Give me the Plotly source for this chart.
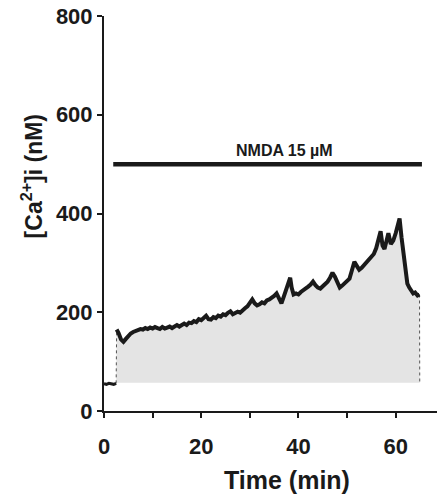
import plotly.graph_objects as go

# Time (min) and [Ca2+]i (nM)
time_min = [0.0, 0.5, 1.0, 1.5, 2.0, 2.5, 2.6, 3.0, 3.5, 4.0, 4.5, 5.0, 5.5, 6.0, 6.5, 7.0, 7.5,
            8.0, 8.5, 9.0, 9.5, 10.0, 10.5, 11.0, 11.5, 12.0, 12.5, 13.0, 13.5, 14.0, 14.5,
            15.0, 15.5, 16.0, 16.5, 17.0, 17.5, 18.0, 18.5, 19.0, 19.5, 20.0, 20.5, 21.0,
            21.5, 22.0, 22.5, 23.0, 23.5, 24.0, 24.5, 25.0, 25.5, 26.0, 26.5, 27.0, 27.5,
            28.0, 28.5, 29.0, 29.5, 30.0, 30.5, 31.0, 31.5, 32.0, 32.5, 33.0, 33.5, 34.0,
            34.5, 35.0, 35.5, 36.0, 36.5, 37.0, 37.5, 38.0, 38.3, 38.6, 39.0, 39.5, 40.0,
            40.5, 41.0, 41.5, 42.0, 42.5, 43.0, 43.5, 44.0, 44.5, 45.0, 45.5, 46.0, 46.5,
            47.0, 47.5, 48.0, 48.5, 49.0, 49.5, 50.0, 50.5, 51.0, 51.5, 52.0, 52.5, 53.0,
            53.5, 54.0, 54.5, 55.0, 55.5, 56.0, 56.5, 56.9, 57.3, 57.7, 58.0, 58.5, 59.0,
            59.5, 60.0, 60.5, 60.8, 61.2, 61.6, 62.0, 62.4, 62.8, 63.2, 63.6, 64.0, 64.5,
            64.9, 64.95]
ca_nM = [55, 54, 56, 55, 54, 56, 165, 158, 145, 140, 146, 152, 157, 160, 162, 164, 166,
         165, 168, 166, 169, 167, 170, 168, 166, 170, 167, 169, 171, 168, 172,
         174, 171, 175, 177, 174, 179, 178, 182, 180, 186, 184, 189, 193,
         186, 185, 190, 188, 193, 191, 196, 194, 199, 202, 196, 198, 201,
         199, 205, 208, 212, 220, 226, 218, 214, 216, 220, 218, 224, 226,
         229, 233, 238, 226, 218, 232, 245, 262, 270, 250, 236, 238, 236,
         241, 244, 247, 252, 256, 262, 255, 250, 248, 253, 258, 262, 270,
         280, 272, 258, 250, 254, 258, 262, 268, 285, 302, 294, 286, 290,
         296, 302, 308, 312, 318, 330, 350, 364, 335, 328, 340, 360, 338,
         345, 360, 385, 390, 352, 315, 285, 258, 250, 242, 238, 240, 234,
         236, 57]
baseline_nM = 57

# NMDA application bar
nmda_label = "NMDA 15 µM"
nmda_start, nmda_end, nmda_level = 1.9, 65.4, 500

x_ticks = [0, 20, 40, 60]
y_ticks = [0, 200, 400, 600, 800]

FONT = "Liberation Sans"
INK = "#1a1a1a"

jump = 6          # index of first point after NMDA onset
end = len(time_min) - 1

fig = go.Figure()
# invisible baseline for fill
fig.add_trace(go.Scatter(x=time_min, y=[baseline_nM] * len(time_min), mode="lines",
                         line=dict(width=0), hoverinfo="skip", showlegend=False))
fig.add_trace(go.Scatter(x=time_min, y=[max(v, baseline_nM) for v in ca_nM], mode="lines",
                         line=dict(width=0), fill="tonexty", fillcolor="#e4e4e4",
                         hoverinfo="skip", showlegend=False))
# thin dotted transitions (onset jump and final drop)
for seg in (slice(jump - 1, jump + 1), slice(end - 1, end + 1)):
    fig.add_trace(go.Scatter(x=time_min[seg], y=ca_nM[seg], mode="lines",
                             line=dict(color="#555555", width=1, dash="dot"),
                             hoverinfo="skip", showlegend=False))
# baseline segment and main trace
fig.add_trace(go.Scatter(x=time_min[:jump], y=ca_nM[:jump], mode="lines",
                         line=dict(color=INK, width=3), showlegend=False))
fig.add_trace(go.Scatter(x=time_min[jump:end], y=ca_nM[jump:end], mode="lines",
                         line=dict(color=INK, width=4), showlegend=False))
fig.add_trace(go.Scatter(x=[nmda_start, nmda_end], y=[nmda_level, nmda_level], mode="lines",
                         line=dict(color=INK, width=4.5), showlegend=False))

fig.add_annotation(x=(nmda_start + nmda_end) / 2 + 3.5, y=nmda_level, yshift=14,
                   text="<b>" + nmda_label + "</b>", showarrow=False,
                   font=dict(family=FONT, size=16, color=INK))

fig.add_annotation(xref="paper", yref="paper", x=0.55, y=-0.175,
                   xanchor="center", yanchor="middle",
                   text="<b>Time (min)</b>", showarrow=False,
                   font=dict(family=FONT, size=25, color=INK))
fig.add_annotation(xref="paper", yref="paper", x=-0.215, y=0.595, textangle=-90,
                   xanchor="center", yanchor="middle",
                   text="<b>[Ca<sup>2+</sup>]i (nM)</b>", showarrow=False,
                   font=dict(family=FONT, size=23, color=INK))

fig.update_layout(
    width=437, height=498,
    margin=dict(l=104, r=0, t=16, b=87),
    paper_bgcolor="white", plot_bgcolor="white",
    font=dict(family=FONT, color=INK),
)
fig.update_xaxes(range=[0, 68.5], showline=True, linecolor=INK, linewidth=2,
                 automargin=False,
                 ticks="outside", ticklen=5, tickwidth=2, tickcolor=INK,
                 tickvals=x_ticks, ticktext=["<b>%d</b>" % v for v in x_ticks],
                 tickfont=dict(family=FONT, size=22, color=INK),
                 ticklabelstandoff=10,
                 minor=dict(dtick=10, ticks="outside", ticklen=5, tickwidth=2, tickcolor=INK),
                 showgrid=False, zeroline=False)
fig.update_yaxes(range=[0, 800], showline=True, linecolor=INK, linewidth=2,
                 automargin=False,
                 ticks="outside", ticklen=5, tickwidth=2, tickcolor=INK,
                 tickvals=y_ticks, ticktext=["<b>%d</b>" % v for v in y_ticks],
                 tickfont=dict(family=FONT, size=22, color=INK),
                 showgrid=False, zeroline=False)

fig.write_html("out.html", config={"displayModeBar": False},
               post_script="document.body.style.margin='0';document.body.style.overflow='hidden';")
